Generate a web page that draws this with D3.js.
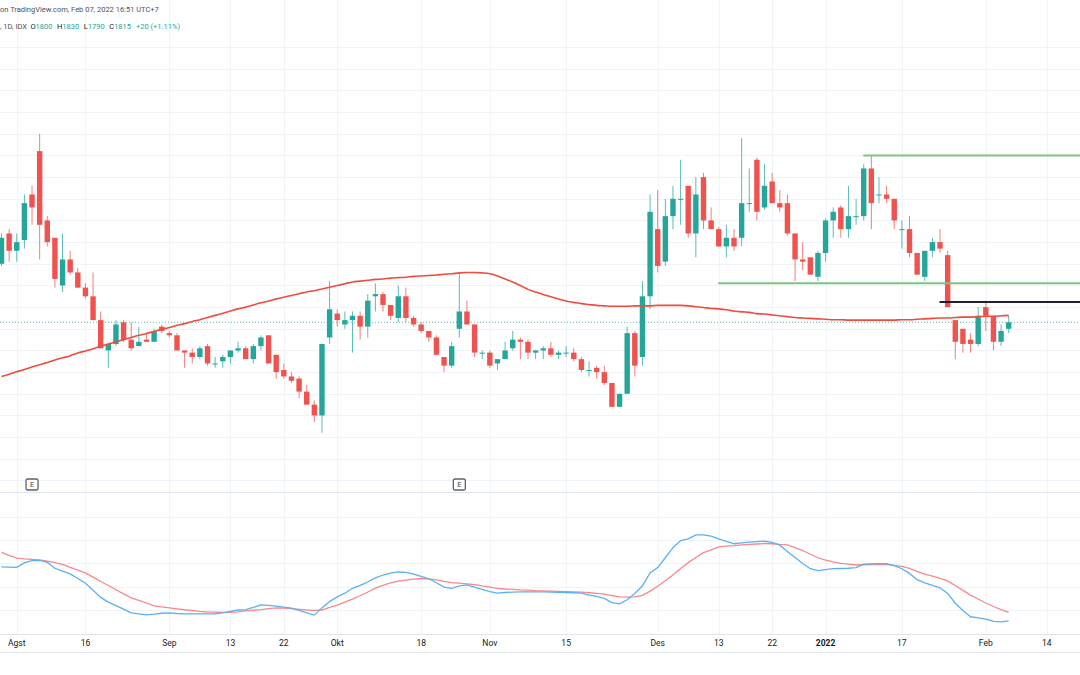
<!DOCTYPE html>
<html>
<head>
<meta charset="utf-8">
<script src="https://cdn.jsdelivr.net/npm/d3@7"></script>
<style>
  html, body { margin: 0; padding: 0; background: #ffffff; }
  svg { display: block; font-family: Roboto, "Liberation Sans", sans-serif; }
</style>
</head>
<body>
<svg id="chart" width="1080" height="675"></svg>
<script>
'use strict';

// daily candles, IDX, 29 Jul 2021 .. 7 Feb 2022
var opens = [1950,2020,1980,2005,2110,2210,2050,2010,1900,1960,1930,1895,1875,1820,1750,1765,1815,1775,1760,1775,
  1770,1805,1790,1785,1750,1745,1735,1760,1720,1725,1735,1750,1755,1730,1760,1785,1740,1705,1690,1685,
  1655,1625,1600,1780,1835,1810,1820,1830,1805,1875,1880,1855,1825,1875,1825,1810,1795,1780,1735,1715,
  1800,1840,1810,1745,1745,1720,1730,1755,1775,1770,1745,1750,1755,1740,1745,1745,1730,1705,1710,1700,
  1675,1620,1650,1790,1735,1875,2030,1955,2060,2100,2130,2020,2150,2050,2030,1990,2010,2010,2090,2190,
  2080,2140,2090,2090,2020,1960,1965,1920,1975,2050,2080,2030,2060,2060,2170,2110,2110,2100,2030,2030,
  1975,1920,1980,2000,1970,1820,1800,1775,1765,1850,1830,1770,1800];
var highs = [2020,2030,2020,2110,2130,2250,2060,2010,2020,1980,1940,1905,1930,1840,1765,1820,1820,1815,1805,1790,
  1800,1810,1795,1790,1750,1755,1760,1765,1735,1740,1750,1770,1760,1765,1785,1785,1740,1720,1700,1690,
  1670,1635,1765,1910,1845,1840,1840,1840,1880,1905,1885,1855,1900,1895,1830,1815,1795,1785,1735,1770,
  1930,1865,1810,1750,1750,1730,1770,1795,1780,1775,1750,1760,1770,1750,1760,1755,1735,1725,1715,1715,
  1675,1650,1805,1795,1910,2110,2120,2100,2130,2190,2130,2150,2160,2080,2035,2040,2030,2240,2170,2195,
  2180,2160,2120,2110,2020,2000,1965,1980,2055,2080,2085,2130,2100,2180,2200,2150,2130,2100,2050,2060,
  1975,1980,2010,2030,1980,1820,1800,1790,1850,1865,1830,1810,1830];
var lows = [1945,1955,1955,1985,2040,1960,1990,1895,1885,1925,1895,1870,1820,1755,1710,1760,1770,1750,1760,1770,
  1770,1790,1780,1750,1710,1720,1730,1715,1710,1710,1720,1745,1730,1720,1750,1720,1685,1685,1675,1640,
  1625,1585,1560,1765,1805,1800,1745,1775,1780,1840,1840,1820,1815,1815,1805,1790,1770,1740,1700,1710,
  1780,1810,1735,1730,1710,1705,1730,1750,1730,1730,1730,1730,1735,1730,1735,1725,1700,1690,1685,1670,
  1620,1620,1650,1690,1715,1845,1930,1945,2030,2040,2010,1965,2030,2030,1990,1965,1980,1990,2070,2050,
  2075,2090,2070,2015,1910,1935,1925,1910,1955,2010,2010,2010,2040,2050,2030,2090,2090,2030,1985,1965,
  1925,1910,1965,1975,1850,1730,1745,1745,1760,1795,1750,1760,1790];
var closes = [2010,1980,2000,2090,2080,2040,2000,1915,1960,1930,1895,1875,1820,1755,1765,1810,1775,1755,1770,1770,
  1795,1795,1785,1750,1745,1735,1755,1720,1720,1735,1750,1755,1730,1760,1780,1720,1700,1690,1680,1655,
  1625,1600,1765,1845,1820,1820,1830,1805,1865,1880,1855,1830,1875,1825,1810,1795,1780,1740,1715,1760,
  1840,1810,1745,1745,1715,1730,1750,1775,1770,1745,1750,1755,1740,1745,1745,1730,1705,1705,1700,1675,
  1620,1650,1790,1715,1875,2070,1945,2060,2100,2100,2020,2110,2050,2030,1990,2010,1990,2090,2090,2070,
  2130,2090,2080,2020,1960,1955,1925,1975,2050,2070,2030,2060,2060,2170,2090,2110,2100,2050,2030,1975,
  1925,1980,2000,1985,1850,1770,1765,1765,1830,1830,1770,1795,1815];

// moving average drawn over the candles
var maValues = [1690,1695,1701,1706,1712,1717,1722,1728,1733,1738,1744,1749,1754,1760,1765,1770,1775,1780,1785,1789,
  1794,1799,1803,1808,1812,1817,1821,1826,1831,1836,1841,1846,1850,1855,1860,1864,1869,1873,1877,1881,
  1885,1888,1892,1896,1900,1904,1908,1910,1912,1914,1915,1917,1918,1919,1921,1922,1923,1924,1926,1927,
  1929,1930,1930,1929,1927,1922,1915,1908,1900,1891,1885,1879,1874,1869,1864,1861,1858,1856,1854,1853,
  1852,1852,1852,1853,1853,1853,1854,1854,1854,1854,1853,1851,1849,1847,1846,1844,1841,1839,1838,1835,
  1834,1832,1830,1828,1826,1825,1824,1823,1822,1821,1821,1820,1820,1820,1820,1820,1820,1820,1821,1821,
  1822,1823,1824,1825,1825,1826,1827,1827,1828,1829,1829,1830,1831];

// lower pane oscillator: fast (blue) and signal (red)
var fastLine = [48.5,48.4,48.3,50.2,51.2,51.3,50.4,47.9,46.7,45.5,43.5,41.5,38.5,35.4,33.4,31.9,30.4,28.8,28.3,27.9,
  28.2,28.6,28.8,28.5,28.3,28.3,28.3,28.3,28.4,28.8,29.4,30.0,30.2,31.1,32.2,32.0,31.7,31.2,30.8,29.8,
  28.8,27.8,30.9,33.6,35.6,37.2,39.3,40.6,42.0,43.8,45.0,45.8,46.3,46.1,45.4,44.4,43.4,41.7,39.8,39.3,
  40.3,40.8,39.8,38.8,37.9,37.2,37.5,37.7,37.8,37.8,37.8,37.8,37.7,37.6,37.5,37.4,37.2,36.4,35.8,35.0,
  33.2,32.6,34.4,37.1,40.4,45.9,48.2,52.4,56.7,59.8,60.5,62.2,62.2,61.7,60.5,59.4,58.4,58.8,59.1,59.3,
  59.5,59.0,57.8,55.1,52.5,49.9,47.7,46.9,47.3,47.7,47.8,47.9,48.2,49.7,49.8,49.9,49.9,49.0,47.7,45.7,
  43.0,41.6,40.6,39.5,37.1,32.9,29.8,27.1,26.6,26.1,25.1,24.9,25.3];
var slowLine = [54.7,53.4,52.2,51.9,51.7,51.5,50.9,50.3,49.6,48.3,47.1,45.9,44.1,42.2,40.5,38.7,36.9,35.2,34.1,33.0,
  31.8,31.3,30.9,30.5,30.1,29.8,29.4,29.1,29.1,29.0,29.0,29.2,29.6,29.9,30.2,30.6,30.9,30.8,30.6,30.3,
  30.0,29.8,30.0,31.1,32.1,33.4,34.7,36.1,37.7,39.4,40.6,41.6,42.4,42.8,43.2,43.5,43.3,42.9,42.3,41.7,
  41.5,41.2,40.9,40.3,39.8,39.3,39.0,38.8,38.6,38.5,38.3,38.2,38.1,38.0,37.9,37.8,37.7,37.4,37.1,36.8,
  36.2,35.6,35.5,35.6,36.3,38.1,40.2,42.5,45.0,47.8,50.3,52.5,54.6,55.8,57.1,57.4,57.6,57.9,58.1,58.3,
  58.5,58.4,58.1,57.9,56.7,55.5,53.9,52.4,51.4,50.6,50.0,49.7,49.3,49.4,49.5,49.5,49.5,49.1,48.7,47.8,
  46.6,45.4,44.5,43.6,42.5,40.5,38.4,36.4,34.7,33.0,31.5,30.2,29.0];

// time axis
var tickIndex = [2, 11, 22, 30, 37, 44, 55, 64, 74, 86, 94, 101, 108, 118, 129, 137];
var tickLabels = ['Agst', '16', 'Sep', '13', '22', 'Okt', '18', 'Nov', '15', 'Des', '13', '22', '2022', '17', 'Feb', '14'];

// drawn horizontal rays: price and starting candle
var rayPrices = [2200, 1905, 1862];
var rayStart = [113, 94, 123];

var earningsIndex = [4, 60];
var priceGrid = [1450,1500,1550,1600,1650,1700,1750,1800,1850,1900,1950,2000,2050,2100,2150,2200,2250,2300,2350,2400,2450];
var oscGrid = [30, 40, 50, 60, 70];

var W = 1080, H = 675;
var mainBottom = 492.3, oscBottom = 634, axisBottom = 652.3;
var UP = '#26a69a', DOWN = '#ef5350';

var candles = opens.map(function (o, i) {
    return { i: i, o: o, h: highs[i], l: lows[i], c: closes[i] };
});

var x = d3.scaleLinear().domain([0, 132]).range([1.5, 1008.7]);
var yPrice = d3.scaleLinear().domain([1800, 2250]).range([328.8, 133.8]);
var yOsc = d3.scaleLinear().domain([30, 70]).range([610, 516.7]);

var svg = d3.select('#chart');
svg.append('rect').attr('width', W).attr('height', H).attr('fill', '#ffffff');

var defs = svg.append('defs');
defs.append('clipPath').attr('id', 'mainClip')
  .append('rect').attr('x', 0).attr('y', 0).attr('width', W).attr('height', mainBottom);
defs.append('clipPath').attr('id', 'oscClip')
  .append('rect').attr('x', 0).attr('y', mainBottom).attr('width', W).attr('height', oscBottom - mainBottom);

// grid
var grid = svg.append('g').attr('stroke', '#f0f3fa').attr('stroke-width', 1);
grid.selectAll('line.v').data(tickIndex).enter().append('line')
    .attr('x1', function (d) { return Math.round(x(d)) + 0.5; })
    .attr('x2', function (d) { return Math.round(x(d)) + 0.5; })
    .attr('y1', 0).attr('y2', oscBottom);
grid.selectAll('line.p').data(priceGrid).enter().append('line')
    .attr('x1', 0).attr('x2', W)
    .attr('y1', function (d) { return Math.round(yPrice(d)) + 0.5; })
    .attr('y2', function (d) { return Math.round(yPrice(d)) + 0.5; });
grid.selectAll('line.o').data(oscGrid).enter().append('line')
    .attr('x1', 0).attr('x2', W)
    .attr('y1', function (d) { return Math.round(yOsc(d)) + 0.5; })
    .attr('y2', function (d) { return Math.round(yOsc(d)) + 0.5; });

// pane borders
var borders = svg.append('g').attr('stroke', '#e0e3eb').attr('stroke-width', 1);
[mainBottom, oscBottom, axisBottom].forEach(function (yy) {
    borders.append('line').attr('x1', 0).attr('x2', W)
      .attr('y1', Math.round(yy) + 0.5).attr('y2', Math.round(yy) + 0.5);
});

var main = svg.append('g').attr('clip-path', 'url(#mainClip)');

// last price line
var last = candles[candles.length - 1];
main.append('line')
    .attr('x1', 0).attr('x2', W)
    .attr('y1', yPrice(last.c)).attr('y2', yPrice(last.c))
    .attr('stroke', UP).attr('stroke-opacity', 0.75)
    .attr('stroke-width', 1).attr('stroke-dasharray', '1,2');

// candles
var cg = main.append('g');
cg.selectAll('line.wick').data(candles).enter().append('line')
    .attr('x1', function (d) { return x(d.i); })
    .attr('x2', function (d) { return x(d.i); })
    .attr('y1', function (d) { return yPrice(d.h); })
    .attr('y2', function (d) { return yPrice(d.l); })
    .attr('stroke', function (d) { return d.c >= d.o ? UP : DOWN; })
    .attr('stroke-opacity', 0.75)
    .attr('stroke-width', 1);
cg.selectAll('rect.body').data(candles).enter().append('rect')
    .attr('x', function (d) { return x(d.i) - 2.7; })
    .attr('width', 5.4)
    .attr('y', function (d) { return yPrice(Math.max(d.o, d.c)); })
    .attr('height', function (d) { return Math.max(1, Math.abs(yPrice(d.o) - yPrice(d.c))); })
    .attr('fill', function (d) { return d.c >= d.o ? UP : DOWN; });

// moving average
main.append('path')
    .datum(maValues)
    .attr('fill', 'none')
    .attr('stroke', '#f04b3e')
    .attr('stroke-width', 1.6)
    .attr('d', d3.line()
        .x(function (d, i) { return x(i); })
        .y(function (d) { return yPrice(d); })
        .curve(d3.curveMonotoneX));

// horizontal rays
var rayColors = ['#7dc383', '#7dc383', '#1e222d'];
main.selectAll('line.ray').data(rayPrices).enter().append('line')
    .attr('x1', function (d, i) { return x(rayStart[i]) - 0.5; })
    .attr('x2', W)
    .attr('y1', function (d) { return yPrice(d); })
    .attr('y2', function (d) { return yPrice(d); })
    .attr('stroke', function (d, i) { return rayColors[i]; })
    .attr('stroke-width', 2);

// earnings markers
var eg = main.selectAll('g.earn').data(earningsIndex).enter().append('g')
    .attr('transform', function (d) { return 'translate(' + x(d) + ',484.5)'; });
eg.append('rect')
    .attr('x', -6).attr('y', -5.5).attr('width', 12).attr('height', 11).attr('rx', 1.5)
    .attr('fill', '#ffffff').attr('stroke', '#5d606b').attr('stroke-width', 1.3);
eg.append('text')
    .attr('text-anchor', 'middle').attr('y', 2.8)
    .attr('font-size', 7.5).attr('fill', '#434651')
    .text('E');

// oscillator pane
var osc = svg.append('g').attr('clip-path', 'url(#oscClip)');
var oscLine = d3.line()
    .x(function (d, i) { return x(i); })
    .y(function (d) { return yOsc(d); });
osc.append('path').datum(slowLine)
    .attr('fill', 'none').attr('stroke', '#f7888b').attr('stroke-width', 1.3)
    .attr('d', oscLine);
osc.append('path').datum(fastLine)
    .attr('fill', 'none').attr('stroke', '#5ab0f5').attr('stroke-width', 1.3)
    .attr('d', oscLine);

// time axis labels
svg.append('g').selectAll('text').data(tickIndex).enter().append('text')
    .attr('x', function (d) { return x(d); })
    .attr('y', 646)
    .attr('text-anchor', 'middle')
    .attr('font-size', 8.5)
    .attr('font-weight', function (d, i) { return tickLabels[i] === '2022' ? 'bold' : 'normal'; })
    .attr('fill', '#131722')
    .text(function (d, i) { return tickLabels[i]; });

// legend
var prev = candles[candles.length - 2];
var chg = last.c - prev.c;
svg.append('text')
    .attr('x', 0).attr('y', 11.5)
    .attr('font-size', 7.5).attr('fill', '#4c4f5a')
    .text('on TradingView.com, Feb 07, 2022 16:51 UTC+7');

var lg = svg.append('text').attr('x', 0).attr('y', 29).attr('font-size', 7.5).attr('fill', '#4c4f5a');
lg.append('tspan').text(', 1D, IDX');
[['O', last.o], ['H', last.h], ['L', last.l], ['C', last.c]].forEach(function (p, k) {
    lg.append('tspan').attr('dx', k === 0 ? 3.5 : 4.5).attr('fill', '#131722').text(p[0]);
    lg.append('tspan').attr('fill', UP).text(p[1]);
});
lg.append('tspan').attr('dx', 5).attr('fill', UP)
    .text((chg >= 0 ? '+' : '') + chg + ' (' + (chg >= 0 ? '+' : '') + (chg / prev.c * 100).toFixed(2) + '%)');
</script>
</body>
</html>
